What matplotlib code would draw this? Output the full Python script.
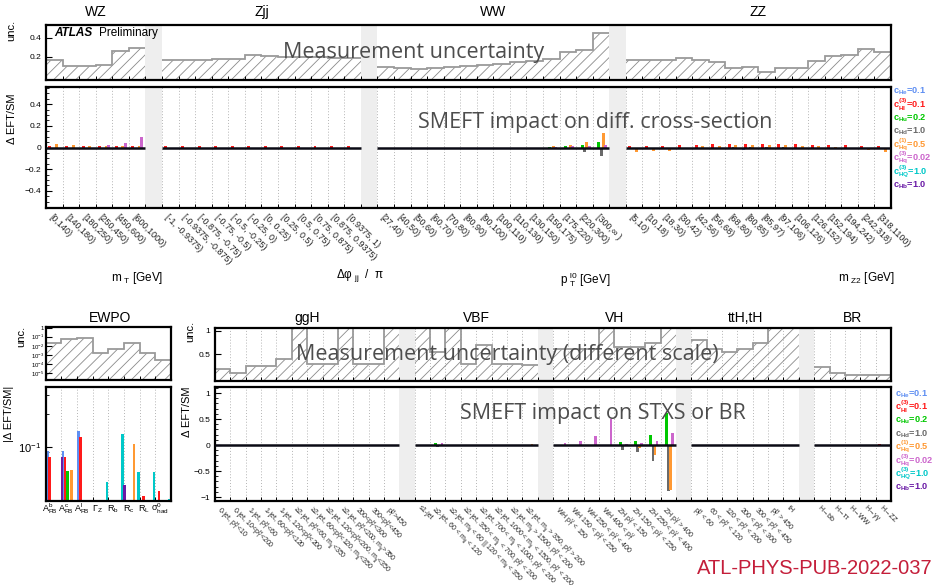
import matplotlib
matplotlib.use("Agg")
import matplotlib.pyplot as plt
import matplotlib.transforms as mtransforms
import numpy as np
from matplotlib.ticker import AutoMinorLocator, NullFormatter, FixedLocator

plt.rcParams["font.family"] = ["Liberation Sans", "DejaVu Sans"]
plt.rcParams["mathtext.default"] = "regular"
plt.rcParams["hatch.linewidth"] = 0.6

W, H = 946, 585

# ---------------- coefficients ----------------
coef_colors = ["#5f8ff2", "#ff1a1a", "#00c800", "#6a6a6a",
               "#ff9933", "#cc66cc", "#00c8c8", "#6a1aa6"]
coef_labels = [r"c$_{He}$=0.1", r"c$_{Hl}^{(3)}$=0.1", r"c$_{Hu}$=0.2", r"c$_{Hd}$=1.0",
               r"c$_{Hq}^{(1)}$=0.5", r"c$_{Hq}^{(3)}$=0.02", r"c$_{HQ}^{(3)}$=1.0", r"c$_{Hb}$=1.0"]

# ---------------- top: differential cross-sections ----------------
top_procs = ["WZ", "Zjj", "WW", "ZZ"]
top_nbins = [6, 12, 14, 16]
top_labels = [
    "[0,140)", "[140,180)", "[180,250)", "[250,450)", "[450,600)", "[600,1000)",
    "[-1, -0.9375)", "[-0.9375, -0.875)", "[-0.875, -0.75)", "[-0.75, -0.5)", "[-0.5, -0.25)",
    "[-0.25, 0)", "[0, 0.25)", "[0.25, 0.5)", "[0.5, 0.75)", "[0.75, 0.875)", "[0.875, 0.9375)",
    "[0.9375, 1)",
    "[27,40)", "[40,50)", "[50,60)", "[60,70)", "[70,80)", "[80,90)", "[90,100)", "[100,110)",
    "[110,130)", "[130,150)", "[150,175)", "[175,220)", "[220,300)", "[300,∞ )",
    "[5,10)", "[10,18)", "[18,30)", "[30,42)", "[42,56)", "[56,68)", "[68,80)", "[80,85)",
    "[85,97)", "[97,106)", "[106,126)", "[126,152)", "[152,194)", "[194,242)", "[242,318)",
    "[318,1100)",
]
top_unc = [
    0.17, 0.10, 0.10, 0.11, 0.26, 0.29,
    0.165, 0.17, 0.17, 0.175, 0.175, 0.215, 0.21, 0.20, 0.20, 0.20, 0.19, 0.19,
    0.095, 0.08, 0.07, 0.085, 0.095, 0.10, 0.11, 0.12, 0.14, 0.16, 0.18, 0.25, 0.27, 0.45,
    0.17, 0.17, 0.165, 0.19, 0.165, 0.15, 0.085, 0.095, 0.04, 0.085, 0.085, 0.16, 0.21, 0.22,
    0.28, 0.25,
]
top_He = [
    0, 0, 0, 0, 0, 0,
    0, 0, 0, 0, 0, 0, 0, 0, 0, 0, 0, 0,
    0, 0, 0, 0, 0, 0, 0, 0, 0, 0, 0, 0, 0, 0,
    0, 0, 0, -0.015, -0.018, -0.018, -0.018, -0.02, -0.018, -0.015, -0.012, -0.01, 0, 0, 0, 0,
]
top_Hl3 = [
    0.018, 0.018, 0.018, 0.018, 0.018, 0.018,
    0.015, 0.015, 0.015, 0.015, 0.015, 0.015, 0.015, 0.015, 0.015, 0.015, 0.015, 0.015,
    0, 0, 0, 0, 0, 0, 0, 0, 0, 0, 0, 0, 0, 0,
    0.012, 0.015, 0.015, 0.02, 0.025, 0.03, 0.035, 0.033, 0.035, 0.035, 0.03, 0.025, 0.02,
    0.02, 0.015, 0.015,
]
top_Hu = [
    0, 0, 0, 0, 0, 0,
    0, 0, 0, 0, 0, 0, 0, 0, 0, 0, 0, 0,
    0, 0, 0, 0, 0, 0, 0, 0, 0, 0, 0.005, 0.01, 0.025, 0.055,
    0, 0, 0, 0, 0, 0, 0, 0, 0, 0, 0, 0, 0, 0, 0, 0,
]
top_Hd = [
    0, 0, 0, 0, 0, 0,
    0, 0, 0, 0, 0, 0, 0, 0, 0, 0, 0, 0,
    0, 0, 0, 0, 0, 0, 0, 0, 0, 0, -0.005, -0.015, -0.045, -0.08,
    0, 0, 0, 0, 0, 0, 0.005, 0.005, 0.005, 0.005, 0, 0, 0, 0, 0, 0,
]
top_Hq1 = [
    0.03, 0.025, 0.012, 0.01, 0.01, 0.01,
    0, 0, 0, -0.005, -0.008, -0.008, -0.008, -0.008, -0.005, 0, 0, 0,
    0, 0, 0, 0, 0, 0, 0, 0, 0, 0, 0.01, 0.02, 0.05, 0.13,
    -0.04, -0.035, -0.03, -0.015, 0.01, 0.015, 0.02, 0.02, 0.02, 0.02, 0.015, 0.01, 0.005, 0,
    -0.025, -0.04,
]
top_Hq3 = [
    0, 0, 0, 0.02, 0.043, 0.095,
    0, 0, 0, 0, 0, 0, 0, 0, 0, 0, 0, 0,
    0, 0, 0, 0, 0, 0, 0, 0, 0, 0, 0.005, 0.01, 0.01, 0.02,
    0, 0, 0, 0, 0, 0, 0, 0, 0, 0, 0, 0, 0, 0, 0, 0,
]
top_HQ = [0] * 48
top_Hb = [0] * 48

# ---------------- EWPO ----------------
ewpo_labels = [r"A$_{FB}^{b}$", r"A$_{FB}^{c}$", r"A$_{FB}^{l}$", r"Γ$_{Z}$",
               r"R$_{b}$", r"R$_{c}$", r"R$_{L}$", r"σ$_{had}^{0}$"]
ewpo_unc = [0.021, 0.06, 0.077, 0.0014, 0.004, 0.021, 0.0017, 0.00025]
ewpo_He = [0.092, 0.092, 0.14, 0, 0, 0, 0, 0]
ewpo_Hl3 = [0.080, 0.080, 0.123, 0, 0, 0, 0.035, 0.039]
ewpo_Hu = [0, 0.060, 0, 0, 0, 0, 0, 0]
ewpo_Hd = [0, 0, 0, 0, 0, 0, 0, 0]
ewpo_Hq1 = [0, 0.061, 0, 0, 0, 0.105, 0, 0]
ewpo_Hq3 = [0, 0, 0, 0, 0, 0, 0, 0]
ewpo_HQ = [0, 0, 0, 0.047, 0.13, 0.059, 0.059, 0.033]
ewpo_Hb = [0.080, 0, 0, 0, 0.044, 0, 0, 0]

# ---------------- bottom: STXS and BR ----------------
stxs_procs = ["ggH", "VBF", "VH", "ttH,tH", "BR"]
stxs_nbins = [12, 8, 8, 7, 5]
stxs_labels = [
    r"0-jet, p$_T^H$<10", r"0-jet, 10<p$_T^H$<200", r"1-jet, p$_T^H$<60",
    r"1-jet, 60<p$_T^H$<120", r"1-jet, 120<p$_T^H$<200", r"≥2-jet, p$_T^H$<60, m$_{jj}$<350",
    r"≥2-jet, 60<p$_T^H$<120, m$_{jj}$<350", r"≥2-jet, 120<p$_T^H$<200, m$_{jj}$<350",
    r"≥2-jet, p$_T^H$<200, m$_{jj}$>350", r"200<p$_T^H$<300", r"300<p$_T^H$<450", r"p$_T^H$>450",
    r"≤1-jet", r"≥2-jet, 60 < m$_{jj}$ < 120", r"≥2-jet, m$_{jj}$ < 60 || 120 < m$_{jj}$ < 350",
    r"≥2-jet, 350 < m$_{jj}$ < 700, p$_T^H$ < 200", r"≥2-jet, 700 < m$_{jj}$ < 1000, p$_T^H$ < 200",
    r"≥2-jet, 1000 < m$_{jj}$ < 1500, p$_T^H$ < 200", r"≥2-jet, m$_{jj}$ > 1500, p$_T^H$ < 200",
    r"≥2-jet, m$_{jj}$ > 350, p$_T^H$ > 200",
    r"WH p$_T^V$ < 150", r"WH 150 < p$_T^V$ < 250", r"WH 250 < p$_T^V$ < 400", r"WH 400 < p$_T^V$",
    r"ZH p$_T^V$ < 150", r"ZH 150 < p$_T^V$ < 250", r"ZH 250 < p$_T^V$ < 400", r"ZH p$_T^V$ > 400",
    r"p$_T^H$ < 60", r"60 < p$_T^H$ < 120", r"120 < p$_T^H$ < 200", r"200 < p$_T^H$ < 300",
    r"300 < p$_T^H$ < 450", r"p$_T^H$ > 450", r"tH",
    r"H→bb", r"H→ττ", r"H→WW", r"H→γγ", r"H→ZZ",
]
stxs_unc = [
    0.18, 0.11, 0.25, 0.25, 0.4, 1.1, 0.3, 0.3, 1.1, 0.3, 0.3, 1.1,
    1.1, 0.55, 1.1, 0.3, 0.7, 0.3, 0.3, 0.28,
    0.6, 0.6, 0.6, 1.1, 0.66, 0.66, 0.73, 1.1,
    0.8, 0.6, 0.55, 0.6, 0.73, 1.1, 1.1,
    0.24, 0.1, 0.07, 0.06, 0.06,
]
stxs_He = [0] * 40
stxs_Hl3 = [
    0, 0, 0, 0, 0, 0, 0, 0, 0, 0, 0, 0,
    0, 0, 0, 0, 0, 0, 0, 0,
    0, 0, 0, 0, 0, 0, 0, 0,
    0, 0, 0, 0, 0, 0, 0,
    0, 0, 0, 0, 0.012,
]
stxs_Hu = [
    0, 0, 0, 0, 0, 0, 0, 0, 0, 0, 0, 0,
    0, 0.04, 0, 0, 0, 0, 0, 0,
    0, 0, 0, 0, 0.05, 0.083, 0.2, 0.61,
    0, 0, 0, 0, 0, 0, 0,
    0, 0, 0, 0, 0,
]
stxs_Hd = [
    0, 0, 0, 0, 0, 0, 0, 0, 0, 0, 0, 0,
    0, -0.045, 0.005, 0.005, 0.005, 0.005, 0.005, 0,
    0, 0, 0, 0, -0.1, -0.14, -0.31, -0.88,
    0, 0, 0, 0, 0, 0, 0,
    0, 0, 0, 0, 0,
]
stxs_Hq1 = [
    0, 0, 0, 0, 0, 0, 0, 0, 0, 0, 0, 0,
    0, 0, 0, 0.006, 0.006, 0.008, 0.01, 0.02,
    0, 0, 0, 0, 0, -0.064, -0.2, -0.86,
    0, 0, 0, 0, 0, 0, 0,
    0, 0, 0, 0, 0,
]
stxs_Hq3 = [
    0, 0, 0, 0, 0, 0, 0, 0, 0, 0, 0, 0,
    0.01, 0.045, 0, 0, 0, 0, 0, -0.02,
    0.04, 0.08, 0.18, 0.51, 0.02, 0.045, 0.083, 0.23,
    0, 0, 0, 0, 0, 0, 0,
    0, 0, 0, 0, 0,
]
stxs_HQ = [0] * 40
stxs_Hb = [0] * 40


def px_axes(fig, l, t, r, b):
    return fig.add_axes([l / W, 1 - b / H, (r - l) / W, (b - t) / H])


def ftext(fig, x, y, s, **kw):
    return fig.text(x / W, 1 - y / H, s, **kw)


def layout(counts):
    # every process gets its bins, one empty grey slot between processes
    starts, gaps, s = [], [], 0
    for k, n in enumerate(counts):
        starts.append(s)
        s += n
        if k < len(counts) - 1:
            gaps.append(s)
            s += 1
    pos = np.concatenate([np.arange(st, st + n) for st, n in zip(starts, counts)])
    return pos, starts, gaps, s


def frame(ax, total, gaps, grid=True):
    ax.set_xlim(0, total)
    for sp in ax.spines.values():
        sp.set_linewidth(1.6)
    ax.set_xticks(np.arange(1, total))
    ax.tick_params(axis="x", direction="in", length=3, width=0.7, labelbottom=False)
    ax.tick_params(axis="y", which="major", direction="in", length=4, width=0.8, labelsize=6)
    ax.tick_params(axis="y", which="minor", direction="in", length=2, width=0.6)
    if grid:
        for x in range(1, total):
            ax.axvline(x, color="#b4b4b4", ls=(0, (1, 2)), lw=0.7, zorder=0.5)
    for g in gaps:
        ax.axvspan(g, g + 1, color="#eeeeee", lw=0, zorder=1)


def draw_unc(ax, pos, starts, counts, values, ylo):
    vals = np.asarray(values, float)
    ax.bar(pos, vals - ylo, bottom=ylo, width=1, align="edge", facecolor="none",
           edgecolor="#8a8a8a", lw=0, hatch="///", zorder=1.2)
    i = 0
    for st, n in zip(starts, counts):
        ax.stairs(vals[i:i + n], np.arange(st, st + n + 1), baseline=None,
                  color="#9a9a9a", lw=1.3, zorder=1.3)
        i += n


def draw_eft(ax, pos, series, ylo=None):
    for i, (vals, col) in enumerate(zip(series, coef_colors)):
        vals = np.asarray(vals, float)
        x = pos + 0.01 + i * 0.135
        if ylo is None:
            ax.bar(x, vals, width=0.18, align="edge", color=col, lw=0, zorder=2)
        else:
            keep = vals > ylo
            ax.bar(x[keep], vals[keep] - ylo, bottom=ylo, width=0.18, align="edge",
                   color=col, lw=0, zorder=2)


def zero_line(ax, starts, counts):
    for st, n in zip(starts, counts):
        ax.plot([st, st + n], [0, 0], color="#0a0a14", lw=1.8, zorder=3,
                solid_capstyle="butt")


def bin_labels(ax, pos, labels, y, size):
    tr = mtransforms.blended_transform_factory(ax.transData, ax.transAxes)
    for p, lab in zip(pos, labels):
        ax.text(p + 0.45, y, lab, transform=tr, rotation=-45, ha="left", va="top",
                rotation_mode="anchor", fontsize=size, color="#222222")


def legend(fig, x, y0):
    for k, (lab, col) in enumerate(zip(coef_labels, coef_colors)):
        ftext(fig, x, y0 + 13.3 * k, lab, color=col, fontsize=6.6, fontweight="bold",
              va="center", ha="left")


fig = plt.figure(figsize=(W / 100, H / 100), dpi=100)

# ================= top block =================
pos, starts, gaps, total = layout(top_nbins)

ax_u = px_axes(fig, 46, 24.5, 891, 80)
frame(ax_u, total, gaps, grid=False)
draw_unc(ax_u, pos, starts, top_nbins, top_unc, -0.045)
ax_u.set_ylim(-0.045, 0.54)
ax_u.set_yticks([0.2, 0.4])
ax_u.set_yticklabels(["0.2", "0.4"])
ax_u.text(0.435, 0.5, "Measurement uncertainty", transform=ax_u.transAxes, fontsize=15.5,
          family="Open Sans", color="#4d4d4d", ha="center", va="center", zorder=5)
ftext(fig, 54, 33, "ATLAS", fontsize=8.5, fontweight="bold", style="italic",
      ha="left", va="center")
ftext(fig, 99, 33, "Preliminary", fontsize=8.5, ha="left", va="center")

ax_r = px_axes(fig, 46, 87.3, 891, 207.7)
frame(ax_r, total, gaps)
draw_eft(ax_r, pos, [top_He, top_Hl3, top_Hu, top_Hd, top_Hq1, top_Hq3, top_HQ, top_Hb])
zero_line(ax_r, starts, top_nbins)
ax_r.set_ylim(-0.555, 0.555)
ax_r.set_yticks([-0.4, -0.2, 0, 0.2, 0.4])
ax_r.set_yticklabels(["−0.4", "−0.2", "0", "0.2", "0.4"])
ax_r.yaxis.set_minor_locator(AutoMinorLocator(4))
ax_r.text(0.65, 0.71, "SMEFT impact on diff. cross-section", transform=ax_r.transAxes,
          fontsize=15.5, family="Open Sans", color="#4d4d4d", ha="center", va="center", zorder=5)
bin_labels(ax_r, pos, top_labels, -0.04, 6.5)

for st, n, name in zip(starts, top_nbins, top_procs):
    ftext(fig, 46 + (st + n / 2) * 845 / total, 12, name, fontsize=10, ha="center", va="center")

ftext(fig, 11, 30, "unc.", rotation=90, fontsize=8, ha="center", va="center")
ftext(fig, 12, 119, "Δ EFT/SM", rotation=90, fontsize=8, ha="center", va="center")
ftext(fig, 137, 278, r"m$_{\ T}$ [GeV]", fontsize=8.5, ha="center", va="center")
ftext(fig, 360, 276, r"Δφ$_{\ jj}$  /  π", fontsize=8.5, ha="center", va="center")
ftext(fig, 585, 280, r"p$_{\ T}^{\ l0}$ [GeV]", fontsize=8.5, ha="center", va="center")
ftext(fig, 866, 278, r"m$_{\ Z2}$ [GeV]", fontsize=8.5, ha="center", va="center")
legend(fig, 893, 91.7)

# ================= EWPO =================
ew_pos = np.arange(len(ewpo_labels))
ax_eu = px_axes(fig, 45.7, 326.7, 171, 380)
frame(ax_eu, len(ewpo_labels), [], grid=False)
ax_eu.set_yscale("log")
draw_unc(ax_eu, ew_pos, [0], [len(ewpo_labels)], ewpo_unc, 1.6e-6)
ax_eu.set_ylim(1.6e-6, 1.3)
ax_eu.yaxis.set_major_locator(FixedLocator([1, 1e-1, 1e-2, 1e-3, 1e-4, 1e-5]))
ax_eu.set_yticklabels(["1", r"10$^{-1}$", r"10$^{-2}$", r"10$^{-3}$", r"10$^{-4}$", r"10$^{-5}$"])
ax_eu.yaxis.set_minor_formatter(NullFormatter())
ax_eu.tick_params(axis="y", labelsize=4.3, pad=1)

ax_er = px_axes(fig, 45.7, 387, 171, 501)
frame(ax_er, len(ewpo_labels), [])
ax_er.set_yscale("log")
draw_eft(ax_er, ew_pos, [ewpo_He, ewpo_Hl3, ewpo_Hu, ewpo_Hd, ewpo_Hq1, ewpo_Hq3, ewpo_HQ, ewpo_Hb],
         ylo=0.0316)
ax_er.set_ylim(0.0316, 0.355)
ax_er.yaxis.set_major_locator(FixedLocator([0.1]))
ax_er.set_yticklabels([r"10$^{-1}$"])
ax_er.yaxis.set_minor_formatter(NullFormatter())
ax_er.tick_params(axis="y", labelsize=8)
ew_tr = mtransforms.blended_transform_factory(ax_er.transData, ax_er.transAxes)
for p, lab in zip(ew_pos, ewpo_labels):
    ax_er.text(p + 0.3, -0.07, lab, transform=ew_tr, fontsize=6.5, ha="center", va="center")
ftext(fig, 110, 318, "EWPO", fontsize=10, ha="center", va="center")
ftext(fig, 21, 336, "unc.", rotation=90, fontsize=8, ha="center", va="center")
ftext(fig, 9, 414, "|Δ EFT/SM|", rotation=90, fontsize=8, ha="center", va="center")

# ================= STXS / BR =================
spos, sstarts, sgaps, stotal = layout(stxs_nbins)

ax_bu = px_axes(fig, 215, 327.7, 891, 380.7)
frame(ax_bu, stotal, sgaps)
draw_unc(ax_bu, spos, sstarts, stxs_nbins, stxs_unc, -0.06)
ax_bu.set_ylim(-0.06, 1.06)
ax_bu.set_yticks([0.5, 1])
ax_bu.set_yticklabels(["0.5", "1"])
ax_bu.text(0.433, 0.5, "Measurement uncertainty (different scale)", transform=ax_bu.transAxes,
           fontsize=15.5, family="Open Sans", color="#4d4d4d", ha="center", va="center", zorder=5)

ax_br = px_axes(fig, 215, 387.3, 891, 500.7)
frame(ax_br, stotal, sgaps)
draw_eft(ax_br, spos, [stxs_He, stxs_Hl3, stxs_Hu, stxs_Hd, stxs_Hq1, stxs_Hq3, stxs_HQ, stxs_Hb])
zero_line(ax_br, sstarts, stxs_nbins)
ax_br.set_ylim(-1.07, 1.11)
ax_br.set_yticks([-1, -0.5, 0, 0.5, 1])
ax_br.set_yticklabels(["−1", "−0.5", "0", "0.5", "1"])
ax_br.yaxis.set_minor_locator(AutoMinorLocator(5))
ax_br.text(0.574, 0.77, "SMEFT impact on STXS or BR", transform=ax_br.transAxes,
           fontsize=15.5, family="Open Sans", color="#4d4d4d", ha="center", va="center", zorder=5)
bin_labels(ax_br, spos, stxs_labels, -0.03, 5.0)

for st, n, name in zip(sstarts, stxs_nbins, stxs_procs):
    ftext(fig, 215 + (st + n / 2) * 676 / stotal, 318, name, fontsize=10, ha="center", va="center")
ftext(fig, 190, 331, "unc.", rotation=90, fontsize=8, ha="center", va="center")
ftext(fig, 187, 412, "Δ EFT/SM", rotation=90, fontsize=8, ha="center", va="center")
legend(fig, 895, 394)

ftext(fig, 697, 568, "ATL-PHYS-PUB-2022-037", fontsize=14.5, color="#c41e3a",
      ha="left", va="center")

fig.savefig("out.png", dpi=100)
